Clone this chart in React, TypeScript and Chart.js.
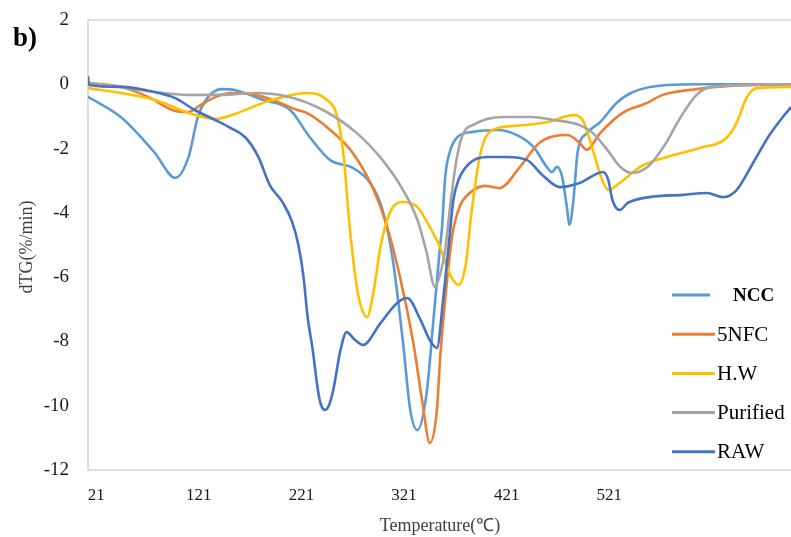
import React, { useEffect, useRef } from "react";
import { Chart, registerables } from "chart.js";

Chart.register(...registerables);

// ---------- data ----------
const seriesNames = ["NCC", "5NFC", "H.W", "Purified", "RAW"];
const seriesColors = ["#5B9BD5", "#ED7D31", "#FFC000", "#A5A5A5", "#4472C4"];

const xTickValues = [21, 121, 221, 321, 421, 521];
const yTickStep = 2;
const xMin = 13;
const xMax = 698;
const yMin = -12;
const yMax = 2;

const nccT = [13, 45, 78, 98, 111, 120, 130, 143, 156, 184, 210, 229, 249, 271, 288, 300, 310, 320, 327, 334, 343, 349, 356, 358, 361, 366, 373, 388, 412, 431, 447, 460, 465, 470, 475, 480, 482, 486, 490, 499, 512, 528, 544, 577, 609, 698];
const nccV = [-0.39, -1.02, -2.13, -2.91, -2.26, -1.02, -0.4, -0.15, -0.18, -0.49, -0.8, -1.64, -2.36, -2.6, -3.07, -3.91, -5.46, -8.05, -10.13, -10.76, -9.6, -7.55, -5.06, -4.44, -2.9, -2.06, -1.64, -1.48, -1.42, -1.58, -1.95, -2.57, -2.73, -2.57, -2.88, -3.91, -4.38, -3.6, -2.14, -1.52, -1.18, -0.58, -0.24, -0.02, 0, 0];

const nfcT = [13, 45, 72, 98, 111, 123, 137, 152, 176, 193, 217, 226, 249, 271, 291, 304, 317, 330, 339, 346, 353, 356, 361, 368, 375, 385, 400, 414, 434, 453, 480, 492, 499, 512, 534, 558, 573, 606, 638, 698];
const nfcV = [0.04, -0.08, -0.4, -0.83, -0.86, -0.64, -0.4, -0.27, -0.33, -0.49, -0.8, -0.89, -1.42, -2.14, -3.26, -4.38, -6.0, -8.05, -9.92, -11.16, -10.13, -8.58, -6.71, -4.69, -3.82, -3.38, -3.16, -3.23, -2.57, -1.82, -1.58, -1.82, -2.04, -1.52, -0.89, -0.58, -0.33, -0.15, -0.05, 0];

const hwT = [13, 45, 78, 111, 137, 159, 186, 208, 226, 246, 256, 262, 268, 276, 285, 291, 298, 307, 320, 334, 346, 356, 366, 374, 381, 387, 395, 405, 427, 460, 486, 495, 505, 514, 520, 531, 551, 577, 609, 635, 645, 655, 665, 698];
const hwV = [-0.12, -0.27, -0.49, -0.89, -1.08, -0.89, -0.55, -0.36, -0.27, -0.49, -1.02, -2.2, -4.44, -6.5, -7.24, -6.5, -5.06, -4.0, -3.66, -3.82, -4.44, -5.06, -5.93, -6.24, -5.62, -3.91, -2.2, -1.46, -1.3, -1.18, -0.96, -1.11, -2.05, -2.98, -3.29, -3.07, -2.57, -2.26, -1.98, -1.67, -1.2, -0.4, -0.12, -0.08];

const purT = [13, 45, 78, 111, 143, 176, 210, 242, 275, 300, 320, 334, 343, 351, 356, 361, 366, 372, 378, 390, 417, 444, 467, 492, 505, 519, 531, 543, 559, 575, 590, 606, 621, 698];
const purV = [0.04, -0.08, -0.24, -0.33, -0.33, -0.27, -0.4, -0.8, -1.52, -2.36, -3.29, -4.22, -5.24, -6.3, -5.93, -5.16, -3.76, -2.36, -1.58, -1.24, -1.02, -1.02, -1.11, -1.27, -1.52, -2.04, -2.55, -2.76, -2.55, -1.89, -1.05, -0.33, -0.08, 0];

const rawT = [13, 14, 45, 78, 98, 117, 137, 152, 166, 179, 190, 203, 212, 218, 223, 227, 232, 237, 240, 244, 248, 252, 259, 265, 273, 281, 298, 314, 324, 337, 346, 353, 359, 365, 369, 374, 385, 402, 421, 441, 456, 473, 492, 515, 520, 524, 531, 539, 560, 593, 616, 632, 645, 661, 677, 690, 698];
const rawV = [0.25, -0.02, -0.08, -0.24, -0.43, -0.8, -1.11, -1.36, -1.64, -2.26, -3.13, -3.69, -4.29, -5.0, -5.99, -7.24, -8.27, -9.51, -9.97, -10.13, -9.97, -9.51, -8.27, -7.71, -7.95, -8.11, -7.43, -6.81, -6.65, -7.33, -7.96, -8.2, -6.71, -4.84, -3.6, -2.98, -2.45, -2.26, -2.26, -2.36, -2.83, -3.2, -3.07, -2.73, -2.98, -3.6, -3.91, -3.69, -3.51, -3.44, -3.38, -3.51, -3.29, -2.45, -1.58, -1.02, -0.71];

const seriesT = [nccT, nfcT, hwT, purT, rawT];
const seriesV = [nccV, nfcV, hwV, purV, rawV];

const panelLabel = "b)";
const xTitle = "Temperature(℃)";
const yTitle = "dTG(%/min)";

// ---------- styles ----------
const W = 791;
const H = 537;
const SERIF = "'Liberation Serif', 'Times New Roman', serif";

const decorPlugin = {
  id: "decor",
  beforeDatasetsDraw(chart: any) {
    const { ctx, chartArea: a } = chart;
    ctx.save();
    ctx.strokeStyle = "#D4D4D4";
    ctx.lineWidth = 1.5;
    ctx.beginPath();
    ctx.moveTo(a.right + 5, a.top);
    ctx.lineTo(a.left, a.top);
    ctx.lineTo(a.left, a.bottom);
    ctx.lineTo(a.right + 5, a.bottom);
    ctx.stroke();
    ctx.restore();
  },
  afterDraw(chart: any) {
    const { ctx } = chart;
    ctx.save();
    // panel label
    ctx.fillStyle = "#000";
    ctx.font = `bold 27px ${SERIF}`;
    ctx.textAlign = "left";
    ctx.textBaseline = "alphabetic";
    ctx.fillText(panelLabel, 13, 46);

    // axis titles
    ctx.fillStyle = "#404040";
    ctx.font = `18px ${SERIF}`;
    ctx.textAlign = "center";
    ctx.textBaseline = "middle";
    ctx.fillText(xTitle, 440, 526);
    ctx.save();
    ctx.translate(27, 247);
    ctx.rotate(-Math.PI / 2);
    ctx.fillText(yTitle, 0, 0);
    ctx.restore();

    // legend
    const ds = chart.data.datasets;
    const y0 = 295;
    const dy = 39.2;
    ds.forEach((d: any, i: number) => {
      const y = y0 + i * dy;
      const first = i === 0;
      ctx.strokeStyle = d.borderColor;
      ctx.lineWidth = 3;
      ctx.beginPath();
      ctx.moveTo(672, y);
      ctx.lineTo(first ? 710 : 715, y);
      ctx.stroke();
      ctx.fillStyle = "#000";
      ctx.font = first ? `bold 19px ${SERIF}` : `21px ${SERIF}`;
      ctx.textAlign = "left";
      ctx.textBaseline = "middle";
      ctx.fillText(d.label, first ? 733 : 717, y + 1);
    });
    ctx.restore();
  },
};

export default function App() {
  const ref = useRef<HTMLCanvasElement | null>(null);

  useEffect(() => {
    if (!ref.current) return;
    const datasets = seriesNames.map((name, i) => ({
      label: name,
      data: seriesT[i].map((t, j) => ({ x: t, y: seriesV[i][j] })),
      borderColor: seriesColors[i],
      backgroundColor: seriesColors[i],
      borderWidth: 2.6,
      pointRadius: 0,
      cubicInterpolationMode: "monotone" as const,
      fill: false,
      order: seriesNames.length - i,
    }));

    const chart = new Chart(ref.current, {
      type: "line",
      data: { datasets },
      options: {
        animation: false,
        responsive: false,
        devicePixelRatio: 1,
        layout: { padding: { top: 20, right: 0, bottom: 0, left: 0 } },
        plugins: {
          legend: { display: false },
          tooltip: { enabled: false },
        },
        scales: {
          x: {
            type: "linear",
            min: xMin,
            max: xMax,
            grid: { display: false, drawTicks: false },
            border: { display: false },
            afterBuildTicks: (scale: any) => {
              scale.ticks = xTickValues.map((v) => ({ value: v }));
            },
            afterFit: (scale: any) => {
              scale.height = 67;
              scale.paddingLeft = 0;
              scale.paddingRight = 0;
            },
            ticks: {
              autoSkip: false,
              maxRotation: 0,
              padding: 15,
              color: "#1a1a1a",
              font: { family: SERIF, size: 17 },
              callback: (v: any) => String(v),
            },
          },
          y: {
            type: "linear",
            min: yMin,
            max: yMax,
            grid: { display: false, drawTicks: false },
            border: { display: false },
            afterFit: (scale: any) => {
              scale.width = 88;
              scale.paddingTop = 0;
              scale.paddingBottom = 0;
            },
            ticks: {
              stepSize: yTickStep,
              padding: 19,
              color: "#1a1a1a",
              font: { family: SERIF, size: 19 },
            },
          },
        },
      },
      plugins: [decorPlugin],
    });
    return () => chart.destroy();
  }, []);

  return (
    <div style={{ position: "absolute", left: 0, top: 0, width: W, height: H, background: "#fff" }}>
      <canvas ref={ref} width={W} height={H} style={{ display: "block", width: W, height: H }} />
    </div>
  );
}
